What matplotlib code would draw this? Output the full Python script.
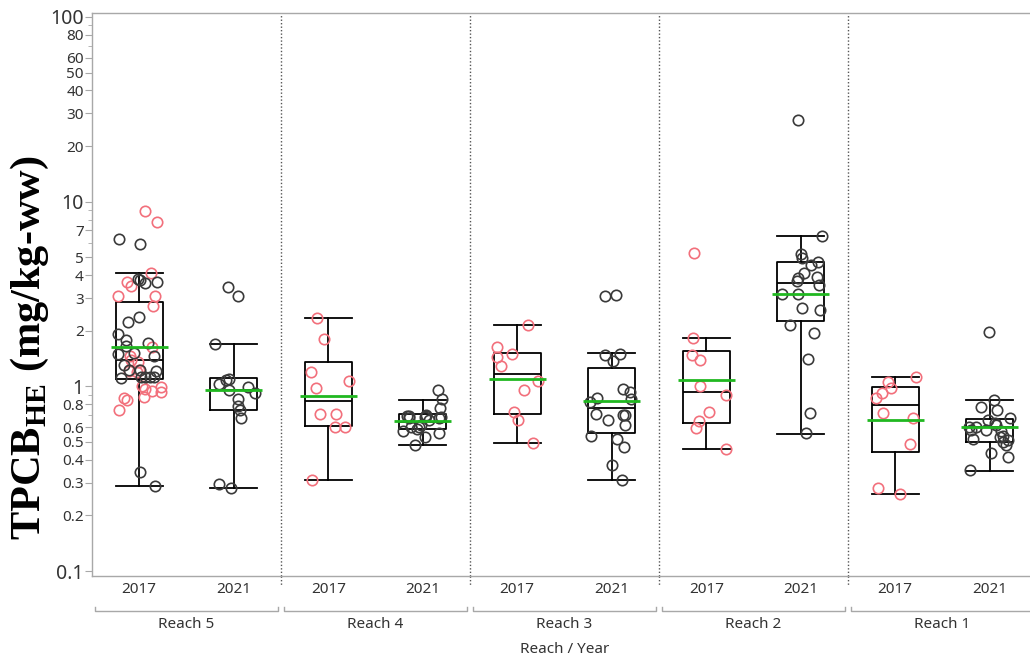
import numpy as np
import matplotlib
matplotlib.use("Agg")
import matplotlib.pyplot as plt
import matplotlib.transforms as mtransforms
from matplotlib.ticker import FixedLocator, NullFormatter

plt.rcParams["mathtext.fontset"] = "custom"
plt.rcParams["mathtext.rm"] = "Liberation Serif"
plt.rcParams["mathtext.bf"] = "Liberation Serif:bold"

reaches = ["Reach 5", "Reach 4", "Reach 3", "Reach 2", "Reach 1"]
years = ["2017", "2021"]

# Box summaries, in order R5-2017, R5-2021, R4-2017, ... R1-2021
box_q1 = [1.10, 0.742, 0.608, 0.586, 0.71, 0.557, 0.631, 2.25, 0.44, 0.50]
box_med = [1.38, 0.96, 0.83, 0.645, 1.17, 0.76, 0.936, 3.62, 0.79, 0.60]
box_q3 = [2.87, 1.11, 1.35, 0.706, 1.51, 1.26, 1.56, 4.70, 0.99, 0.663]
whisk_lo = [0.29, 0.28, 0.313, 0.482, 0.494, 0.31, 0.456, 0.55, 0.26, 0.35]
whisk_hi = [4.13, 1.69, 2.35, 0.847, 2.14, 1.51, 1.82, 6.49, 1.13, 0.84]
means = [1.63, 0.96, 0.883, 0.649, 1.10, 0.837, 1.08, 3.18, 0.66, 0.60]

# Individual samples (red / black markers)
r5_2017_red = [8.94, 7.77, 4.13, 3.68, 3.50, 3.10, 3.10, 2.71, 1.64, 1.36, 1.38,
               1.46, 1.21, 1.19, 1.22, 1.00, 0.99, 0.94, 0.97, 0.93, 0.84, 0.86,
               0.88, 0.74]
r5_2017_black = [6.29, 5.93, 3.83, 3.67, 3.62, 3.76, 2.36, 2.24, 1.93, 1.79, 1.71,
                 1.65, 1.52, 1.49, 1.46, 1.31, 1.22, 1.21, 1.22, 1.12, 1.13, 1.12,
                 1.11, 1.13, 0.344, 0.29]
r5_2021_black = [3.44, 3.07, 1.69, 1.10, 1.08, 1.03, 0.99, 0.96, 0.917, 0.858,
                 0.78, 0.745, 0.677, 0.295, 0.28]
r4_2017_red = [2.35, 1.80, 1.19, 1.07, 0.975, 0.71, 0.71, 0.605, 0.605, 0.313]
r4_2021_black = [0.95, 0.85, 0.76, 0.70, 0.69, 0.69, 0.68, 0.68, 0.67, 0.67, 0.66,
                 0.69, 0.586, 0.60, 0.60, 0.57, 0.56, 0.62, 0.53, 0.482]
r3_2017_red = [2.14, 1.64, 1.49, 1.44, 1.29, 1.07, 0.96, 0.73, 0.658, 0.494]
r3_2021_black = [3.10, 3.14, 1.50, 1.47, 1.37, 0.963, 0.93, 0.86, 0.85, 0.82, 0.70,
                 0.70, 0.71, 0.66, 0.62, 0.54, 0.52, 0.468, 0.374, 0.31]
r2_2017_red = [5.28, 1.82, 1.39, 1.48, 1.00, 0.90, 0.726, 0.652, 0.593, 0.456]
r2_2021_black = [27.7, 6.49, 5.23, 4.94, 4.72, 4.55, 4.13, 3.88, 3.93, 3.74, 3.55,
                 3.18, 3.18, 2.66, 2.60, 2.16, 1.95, 1.41, 0.72, 0.557]
r1_2017_red = [1.13, 1.05, 0.975, 0.917, 0.86, 0.72, 0.67, 0.49, 0.28, 0.26]
r1_2021_black = [1.97, 0.84, 0.74, 0.77, 0.675, 0.66, 0.63, 0.62, 0.60, 0.58, 0.58,
                 0.57, 0.54, 0.53, 0.52, 0.51, 0.50, 0.48, 0.435, 0.415, 0.354, 0.60]

red_groups = [r5_2017_red, [], r4_2017_red, [], r3_2017_red, [], r2_2017_red, [],
              r1_2017_red, []]
black_groups = [r5_2017_black, r5_2021_black, [], r4_2021_black, [], r3_2021_black,
                [], r2_2021_black, [], r1_2021_black]

y_labeled = [0.1, 0.2, 0.3, 0.4, 0.5, 0.6, 0.8, 1, 2, 3, 4, 5, 7, 10, 20, 30, 40,
             50, 60, 80, 100]
y_minor = [0.7, 0.9, 6, 8, 9, 70, 90]

RED = "#F2707C"
BLACK = "#3A3A3A"
GREEN = "#20B820"
GREY = "#A8A8A8"
TXT = "#333333"
FONT = "Noto Sans"

fig = plt.figure(figsize=(10.30, 6.59), dpi=100)
# the last panel runs past the right edge of the figure
ax = fig.add_axes([92 / 1030, 1 - 576 / 659, 945 / 1030, (576 - 13) / 659])
ax.set_yscale("log")
ax.set_ylim(0.094, 105)
ax.set_xlim(0, 10)

positions = np.arange(10) + 0.5

stats = []
for i in range(10):
    stats.append(dict(med=box_med[i], q1=box_q1[i], q3=box_q3[i],
                      whislo=whisk_lo[i], whishi=whisk_hi[i], fliers=[]))
line_kw = dict(color="black", linewidth=1.3)
ax.bxp(stats, positions=positions, widths=0.5, capwidths=0.5, showfliers=False,
       boxprops=line_kw, whiskerprops=line_kw, capprops=line_kw,
       medianprops=line_kw, manage_ticks=False, zorder=2)

rng = np.random.default_rng(7)
for i in range(10):
    for vals, col in ((red_groups[i], RED), (black_groups[i], BLACK)):
        if not vals:
            continue
        xs = positions[i] + rng.uniform(-0.23, 0.23, len(vals))
        ax.plot(xs, vals, "o", mfc="none", mec=col, ms=7.5, mew=1.2,
                linestyle="none", zorder=3)

ax.hlines(means, positions - 0.3, positions + 0.3, colors=GREEN, linewidth=2.0,
          zorder=4)

trans = mtransforms.blended_transform_factory(ax.transData, ax.transAxes)
for xb in (2, 4, 6, 8):
    ax.axvline(xb, color="#555555", linestyle=(0, (1, 1.5)), linewidth=1.0, zorder=1)
    ax.plot([xb, xb], [0, -0.018], transform=trans, color="#555555",
            linestyle=(0, (1, 1.5)), linewidth=1.0, clip_on=False)

# Grouped x axis: years, brackets, reach names
ax.set_xticks(positions)
ax.set_xticklabels(years * 5, fontsize=11, color=TXT, fontfamily=FONT)
ax.tick_params(axis="x", length=0, pad=4)
for i, name in enumerate(reaches):
    x0, x1 = 2 * i + 0.03, 2 * i + 2 - 0.03
    ax.plot([x0, x0, x1, x1], [-0.055, -0.062, -0.062, -0.055], transform=trans,
            color=GREY, linewidth=1.0, clip_on=False)
    ax.text(2 * i + 1, -0.087, name, transform=trans, ha="center", va="center",
            fontsize=11, color=TXT, fontfamily=FONT)
ax.text(5, -0.13, "Reach / Year", transform=trans, ha="center", va="center",
        fontsize=11, color=TXT, fontfamily=FONT)

# Log y axis with labelled ticks
ax.yaxis.set_major_locator(FixedLocator(y_labeled))
ax.yaxis.set_minor_locator(FixedLocator(y_minor))
ax.yaxis.set_minor_formatter(NullFormatter())
ax.set_yticklabels([("%g" % v) for v in y_labeled])
for v, lab in zip(y_labeled, ax.get_yticklabels()):
    decade = v in (0.1, 1, 10, 100)
    lab.set_fontsize(14 if decade else 11)
    lab.set_fontfamily(FONT)
    lab.set_color(TXT)
ax.tick_params(axis="y", which="major", length=5, color=GREY, pad=1)
ax.tick_params(axis="y", which="minor", length=3, color=GREY)

for sp in ax.spines.values():
    sp.set_color(GREY)
    sp.set_linewidth(1.0)

fig.text(30 / 1030, 1 - 348 / 659, r"TPCB$_{\mathbf{HE}}$ (mg/kg-ww)",
         rotation=90, ha="center", va="center", fontsize=30.5,
         fontfamily="Liberation Serif", fontweight="bold", color="black")

fig.savefig("out.png", dpi=100)
